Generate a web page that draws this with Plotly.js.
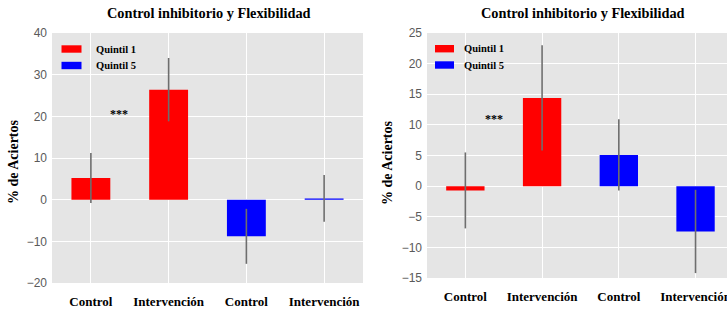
<!DOCTYPE html>
<html>
<head>
<meta charset="utf-8">
<script src="https://cdn.plot.ly/plotly-3.0.1.min.js"></script>
<style>html,body{margin:0;padding:0;overflow:hidden;background:#fff;}#chart{width:727px;height:310px;}</style>
</head>
<body>
<div id="chart"></div>
<script>
// ---- data ----
const categories = ["Control", "Intervención", "Control", "Intervención"];
const chartTitle = "Control inhibitorio y Flexibilidad";
const yTitle = "% de Aciertos";
const seriesNames = ["Quintil 1", "Quintil 5"];

// left chart
const leftQ1X = [0, 1];
const leftQ1 = [5.2, 26.4];
const leftQ1Err = [6.0, 7.6];
const leftQ5X = [2, 3];
const leftQ5 = [-8.8, 0.3];
const leftQ5Err = [6.6, 5.6];
const leftSig = {x: 0.36, y: 20.6, text: "***"};

// right chart
const rightQ1X = [0, 1];
const rightQ1 = [-0.7, 14.4];
const rightQ1Err = [6.2, 8.6];
const rightQ5X = [2, 3];
const rightQ5 = [5.1, -7.4];
const rightQ5Err = [5.8, 6.8];
const rightSig = {x: 0.37, y: 11.0, text: "***"};

const tickVals = [0, 1, 2, 3];

// ---- layout helpers ----
const W = 727, H = 310;
const px = v => v / W;
const py = v => 1 - v / H;
const RED = "#ff0000", BLUE = "#0000ff", ERR = "#6e6e6e";
const serif = "Liberation Serif, Times New Roman, serif";
const sans = "Liberation Sans, Arial, sans-serif";

function bar(x, y, err, color, xa, ya, name) {
  return {
    type: "bar", x: x, y: y, name: name, width: 0.5,
    marker: {color: color, line: {width: 0}},
    error_y: {type: "data", array: err, visible: true, color: ERR, thickness: 1.6, width: 0},
    xaxis: xa, yaxis: ya, showlegend: false, hoverinfo: "x+y"
  };
}

const data = [
  bar(leftQ1X, leftQ1, leftQ1Err, RED, "x", "y", seriesNames[0]),
  bar(leftQ5X, leftQ5, leftQ5Err, BLUE, "x", "y", seriesNames[1]),
  bar(rightQ1X, rightQ1, rightQ1Err, RED, "x2", "y2", seriesNames[0]),
  bar(rightQ5X, rightQ5, rightQ5Err, BLUE, "x2", "y2", seriesNames[1])
];

const xCommon = {
  tickvals: tickVals, ticktext: categories, showgrid: true, gridcolor: "#ffffff", gridwidth: 1,
  zeroline: false, ticks: "", showline: false, ticklabelstandoff: 9, ticklabeloverflow: "allow",
  tickfont: {family: serif, size: 13, weight: "bold", color: "#000"}
};
const yCommon = {
  showgrid: true, gridcolor: "#ffffff", gridwidth: 1, zeroline: false, ticks: "", showline: false,
  ticklabelstandoff: 4, tickfont: {family: sans, size: 12, color: "#5a5a5a"}
};

const layout = {
  width: W, height: H,
  margin: {l: 0, r: 0, t: 0, b: 0, pad: 0},
  paper_bgcolor: "#ffffff", plot_bgcolor: "#e5e5e5",
  barmode: "overlay", showlegend: false,
  xaxis: Object.assign({}, xCommon, {domain: [px(52), px(363)], range: [-0.5, 3.5], anchor: "y"}),
  yaxis: Object.assign({}, yCommon, {domain: [py(283), py(33)], range: [-20, 40], dtick: 10, anchor: "x"}),
  xaxis2: Object.assign({}, xCommon, {domain: [px(427), 1], range: [-0.5, 3.41], anchor: "y2"}),
  yaxis2: Object.assign({}, yCommon, {domain: [py(278), py(33)], range: [-15, 25], dtick: 5, anchor: "x2"}),
  annotations: [],
  shapes: []
};

function addLegend(rx0, rx1, ry1, ry2, tx) {
  const colors = [RED, BLUE];
  const ys = [ry1, ry2];
  for (let i = 0; i < 2; i++) {
    layout.shapes.push({type: "rect", xref: "paper", yref: "paper",
      x0: px(rx0), x1: px(rx1), y0: py(ys[i] - 3.7), y1: py(ys[i] + 3.7),
      fillcolor: colors[i], line: {width: 0}});
    layout.annotations.push({xref: "paper", yref: "paper", x: px(tx), y: py(ys[i]),
      xanchor: "left", yanchor: "middle", showarrow: false, text: seriesNames[i],
      font: {family: serif, size: 10.5, weight: "bold", color: "#000"}});
  }
}
addLegend(61.5, 81.5, 49, 65.5, 94);
addLegend(435, 454, 48.7, 65, 462);

// titles
[[209, 13], [583, 13]].forEach(p => layout.annotations.push({
  xref: "paper", yref: "paper", x: px(p[0]), y: py(p[1]), xanchor: "center", yanchor: "middle",
  showarrow: false, text: chartTitle, font: {family: serif, size: 14.3, weight: "bold", color: "#000"}}));
// y titles
[[13, 162], [387, 163]].forEach(p => layout.annotations.push({
  xref: "paper", yref: "paper", x: px(p[0]), y: py(p[1]), xanchor: "center", yanchor: "middle",
  textangle: -90, showarrow: false, text: yTitle,
  font: {family: serif, size: 14, weight: "bold", color: "#000"}}));
// significance markers
layout.annotations.push({xref: "x", yref: "y", x: leftSig.x, y: leftSig.y, text: leftSig.text,
  showarrow: false, font: {family: serif, size: 12, weight: "bold", color: "#000"}});
layout.annotations.push({xref: "x2", yref: "y2", x: rightSig.x, y: rightSig.y, text: rightSig.text,
  showarrow: false, font: {family: serif, size: 12, weight: "bold", color: "#000"}});

Plotly.newPlot("chart", data, layout, {staticPlot: true, displayModeBar: false});
</script>
</body>
</html>
